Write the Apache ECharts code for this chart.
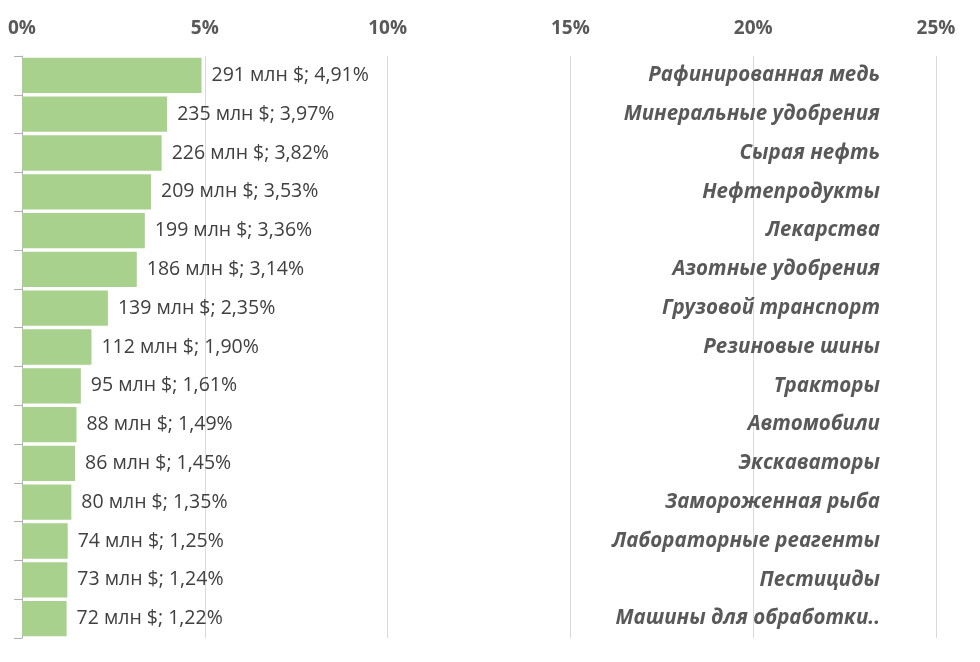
<!DOCTYPE html>
<html lang="ru">
<head>
    <meta charset="UTF-8">
    <title>Экспорт по товарам</title>
    <script src="https://cdn.jsdelivr.net/npm/echarts@6.0.0/dist/echarts.min.js"></script>
    <style>
        html, body { margin: 0; padding: 0; background: #fff; }
    </style>
</head>
<body>
    <div id="main" style="width: 980px;height:662px;"></div>
    <script>
        const categories = ['Рафинированная медь', 'Минеральные удобрения', 'Сырая нефть', 'Нефтепродукты', 'Лекарства', 'Азотные удобрения', 'Грузовой транспорт', 'Резиновые шины', 'Тракторы', 'Автомобили', 'Экскаваторы', 'Замороженная рыба', 'Лабораторные реагенты', 'Пестициды', 'Машины для обработки..'];
        const shares = [4.91, 3.97, 3.82, 3.53, 3.36, 3.14, 2.35, 1.90, 1.61, 1.49, 1.45, 1.35, 1.25, 1.24, 1.22];
        const millions = [291, 235, 226, 209, 199, 186, 139, 112, 95, 88, 86, 80, 74, 73, 72];

        const fontFamily = '"Open Sans", "Noto Sans", sans-serif';
        const textColor = '#595959';

        var chart = echarts.init(document.getElementById('main'));

        var option = {
            animation: false,
            grid: { left: 22, right: 44, top: 56, bottom: 24 },
            xAxis: {
                type: 'value',
                position: 'top',
                min: 0,
                max: 25,
                interval: 5,
                axisLine: { show: false },
                axisTick: { show: false },
                splitLine: { lineStyle: { color: '#d9d9d9', width: 1 } },
                axisLabel: {
                    formatter: '{value}%',
                    color: textColor,
                    fontFamily: fontFamily,
                    fontWeight: 'bold',
                    fontSize: 19,
                    margin: 18
                }
            },
            yAxis: [{
                type: 'category',
                inverse: true,
                data: categories,
                axisLine: { show: true, lineStyle: { color: '#b0b0b0' } },
                axisTick: { show: true, interval: 0, inside: false, length: 8, lineStyle: { color: '#b0b0b0' } },
                // пустые подписи нужны, чтобы риски рисовались на каждой границе
                axisLabel: { show: true, interval: 0, formatter: function () { return ''; } }
            }, {
                type: 'category',
                inverse: true,
                position: 'right',
                data: categories,
                axisLine: { show: false },
                axisTick: { show: false },
                axisLabel: {
                    align: 'right',
                    margin: -56,
                    color: textColor,
                    fontFamily: fontFamily,
                    fontWeight: 'bold',
                    fontStyle: 'italic',
                    fontSize: 20.5
                }
            }],
            series: [{
                type: 'bar',
                data: shares,
                barCategoryGap: '9%',
                itemStyle: { color: '#a9d18e' },
                label: {
                    show: true,
                    position: 'right',
                    distance: 10,
                    color: '#404040',
                    fontFamily: fontFamily,
                    fontSize: 19.5,
                    formatter: function (p) {
                        return millions[p.dataIndex] + ' млн $; ' + shares[p.dataIndex].toFixed(2).replace('.', ',') + '%';
                    }
                }
            }]
        };

        chart.setOption(option);
    </script>
</body>
</html>
